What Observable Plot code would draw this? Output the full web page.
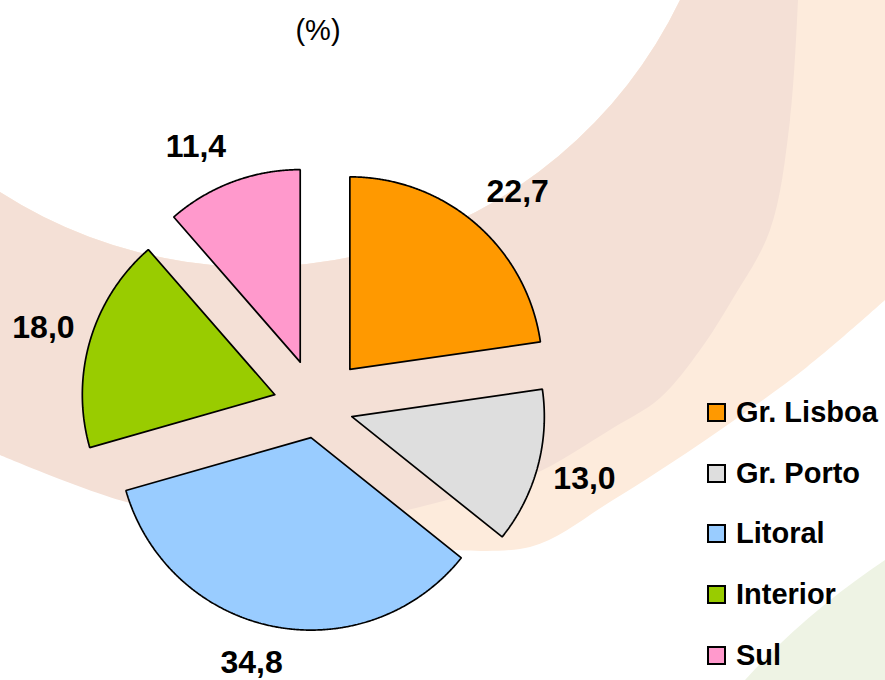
<!DOCTYPE html>
<html>
<head>
<meta charset="utf-8">
<script src="https://cdn.jsdelivr.net/npm/d3@7"></script>
<script src="https://cdn.jsdelivr.net/npm/@observablehq/plot@0.6"></script>
<style>
  html, body { margin: 0; padding: 0; background: #fff; }
  #wrap { position: relative; width: 885px; height: 680px; overflow: hidden;
          font-family: "Liberation Sans", Arial, sans-serif; }
  #bg, #chart { position: absolute; left: 0; top: 0; }
  #title { position: absolute; left: 318px; top: 13px; transform: translateX(-50%);
           font-size: 29px; line-height: 34px; color: #000; white-space: nowrap; }
  .lg-row { position: absolute; left: 707px; height: 40px; display: flex; align-items: center;
            font-size: 29px; font-weight: bold; color: #000; white-space: nowrap; }
  .lg-sw { width: 19px; height: 19px; box-sizing: border-box; border: 2px solid #000;
           margin-right: 10px; flex: none; }
</style>
</head>
<body>
<div id="wrap">
  <svg id="bg" width="885" height="680"></svg>
  <div id="chart"></div>
  <div id="title">(%)</div>
  <div id="legend"></div>
</div>
<script>
// ---- data ----
const regions = ["Gr. Lisboa", "Gr. Porto", "Litoral", "Interior", "Sul"];
const shares  = [22.7, 13.0, 34.8, 18.0, 11.4];
const labels  = ["22,7", "13,0", "34,8", "18,0", "11,4"];
const colors  = ["#FF9900", "#DEDEDE", "#99CCFF", "#99CC00", "#FF99CC"];
// per-slice explosion (in radius units)
const explode = [0.26, 0.187, 0.161, 0.229, 0.25];

// ---- layout ----
const W = 885, H = 680;
const R_PX = 192.5;            // pie radius in pixels
const CX = 316.6, CY = 406.7;  // pie centre in pixels
const LABEL_R = 209 / R_PX, HALF_W = 31 / R_PX, HALF_H = 20 / R_PX;

// ---- background decoration ----
(function drawBg() {
  const svg = d3.select("#bg");
  const cr = d3.line().curve(d3.curveCatmullRom.alpha(0.5));
  const tail = pts => cr(pts).replace(/^M[\d.\-]+,[\d.\-]+/, "");
  const darkOuter = [[798,0],[790,120],[770,230],[732,300],[700,350],[660,398],[613,428],
                     [530,476],[447,500],[380,515],[260,523],[130,503],[0,455]];
  const lightLower = [[885,300],[807,367],[710,437],[613,500],[530,547],[430,548]];
  // light streak
  svg.append("path")
    .attr("d", "M680,0 L885,0 L885,300 " + tail(lightLower) +
               " L0,455 L0,192 A472,472 0 0 0 680,0 Z")
    .attr("fill", "#fdebdc");
  // dark band
  svg.append("path")
    .attr("d", "M0,192 A472,472 0 0 0 680,0 L798,0 " + tail(darkOuter) + " Z")
    .attr("fill", "#f4e0d6");
  // green corner
  svg.append("path")
    .attr("d", "M745,680 C790,630 840,590 885,560 L885,680 Z")
    .attr("fill", "#eef3e4");
})();

// ---- build slice outlines with d3.pie ----
const pie = d3.pie().sort(null).value(d => d.share).startAngle(0).endAngle(2 * Math.PI);
const arcs = pie(regions.map((r, i) => ({region: r, share: shares[i], label: labels[i], i})));

const slicePts = [];
const labelPts = [];
const clamp = v => Math.max(-1, Math.min(1, v));
arcs.forEach(a => {
  const i = a.data.i;
  const mid = (a.startAngle + a.endAngle) / 2;
  const ox = explode[i] * Math.sin(mid), oy = explode[i] * Math.cos(mid);
  slicePts.push({region: a.data.region, x: ox, y: oy});
  const n = Math.ceil((a.endAngle - a.startAngle) / 0.005);
  for (let k = 0; k <= n; k++) {
    const t = a.startAngle + (a.endAngle - a.startAngle) * k / n;
    slicePts.push({region: a.data.region, x: ox + Math.sin(t), y: oy + Math.cos(t)});
  }
  slicePts.push({region: a.data.region, x: ox, y: oy});
  const s = Math.sin(mid), c = Math.cos(mid);
  labelPts.push({
    label: a.data.label,
    x: ox + LABEL_R * s + HALF_W * clamp(3 * s),
    y: oy + LABEL_R * c + HALF_H * clamp(1.4 * c)
  });
});

const chart = Plot.plot({
  width: W, height: H,
  margin: 0,
  x: {domain: [-CX / R_PX, (W - CX) / R_PX], range: [0, W], axis: null},
  y: {domain: [-(H - CY) / R_PX, CY / R_PX], range: [H, 0], axis: null},
  color: {domain: regions, range: colors},
  style: {background: "transparent", fontFamily: "'Liberation Sans', Arial, sans-serif", overflow: "visible"},
  marks: [
    Plot.line(slicePts, {x: "x", y: "y", z: "region", fill: "region",
                         stroke: "#000", strokeWidth: 1.7, strokeLinejoin: "miter"}),
    Plot.text(labelPts, {x: "x", y: "y", text: "label", fontSize: 32, fontWeight: "bold",
                         fill: "#000", textAnchor: "middle", lineAnchor: "middle"})
  ]
});
document.getElementById("chart").appendChild(chart);

// ---- legend ----
const legend = document.getElementById("legend");
regions.forEach((r, i) => {
  const row = document.createElement("div");
  row.className = "lg-row";
  row.style.top = (412.5 + i * 60.7 - 20) + "px";
  const sw = document.createElement("span");
  sw.className = "lg-sw";
  sw.style.background = colors[i];
  const tx = document.createElement("span");
  tx.textContent = r;
  row.appendChild(sw);
  row.appendChild(tx);
  legend.appendChild(row);
});
</script>
</body>
</html>
